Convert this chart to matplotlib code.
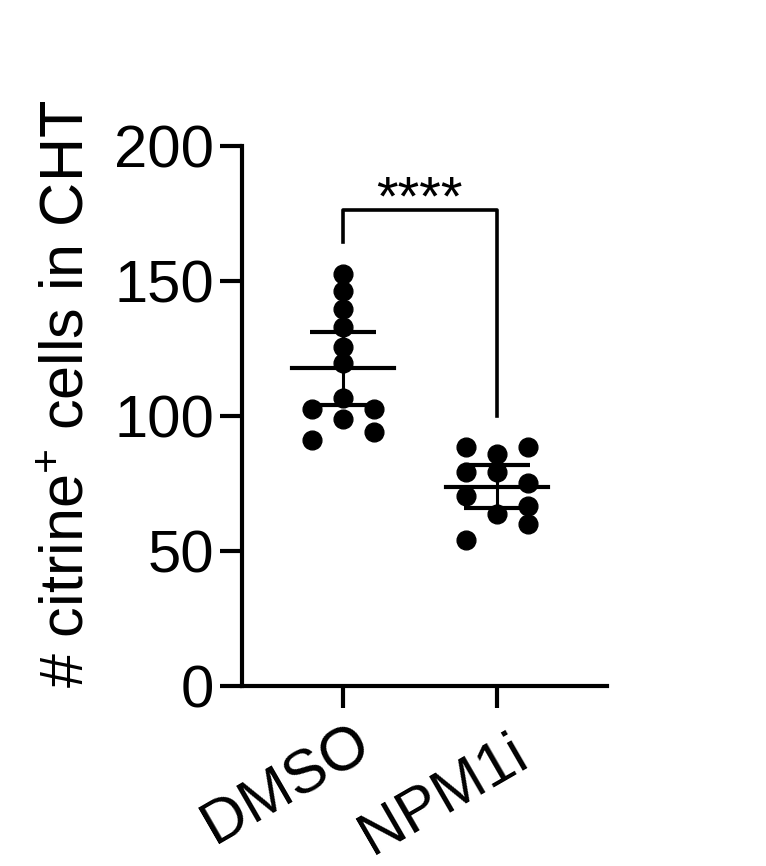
import numpy as np
import matplotlib
matplotlib.use('Agg')
import matplotlib.pyplot as plt
from matplotlib.transforms import ScaledTranslation

plt.rcParams['font.family'] = ['Liberation Sans', 'DejaVu Sans']
plt.rcParams['mathtext.fontset'] = 'custom'
plt.rcParams['mathtext.rm'] = 'Liberation Sans'
plt.rcParams['mathtext.default'] = 'regular'

groups = ['DMSO', 'NPM1i']
# values, with the horizontal slot each dot sits in (-1 left, 0 centre, 1 right)
dmso = [152.4, 146.3, 139.6, 132.9, 125.5, 119.5, 106.7, 102.7, 102.7, 98.7, 94.2, 91.0]
dmso_slot = [0, 0, 0, 0, 0, 0, 0, -1, 1, 0, 1, -1]
npm1i = [88.6, 88.6, 85.9, 79.2, 79.2, 75.2, 70.5, 66.5, 63.8, 59.8, 54.0]
npm1i_slot = [-1, 1, 0, 0, -1, 1, -1, 1, 0, 1, -1]
t_crit = [2.201, 2.228]  # 95% CI, df = n - 1
yticks = [0, 50, 100, 150, 200]
bracket_y = 176.3
bracket_ends = [164.5, 100]
stars = '****'

fig = plt.figure(figsize=(7.66, 8.66), dpi=100)
ax = fig.add_axes([0.316, 0.2079, 0.476, 0.6236])

for i, (vals, slots) in enumerate([(dmso, dmso_slot), (npm1i, npm1i_slot)]):
    vals = np.array(vals)
    xs = i + 0.2 * np.array(slots)
    ax.plot(xs, vals, 'o', color='black', markersize=13.5, zorder=3)
    m = vals.mean()
    ci = t_crit[i] * vals.std(ddof=1) / np.sqrt(len(vals))
    ax.plot([i - 0.33, i + 0.33], [m, m], color='black', lw=3, zorder=4)
    ax.errorbar(i, m, yerr=ci, fmt='none', ecolor='black', elinewidth=2.2,
                capsize=24, capthick=3, zorder=4)

# significance bracket
ax.plot([0, 0, 1, 1], [bracket_ends[0], bracket_y, bracket_y, bracket_ends[1]],
        color='black', lw=2.6)
ax.text(0.5, 170.3, stars, ha='center', va='bottom', fontsize=40)

ax.set_xlim(-0.656, 1.714)
ax.set_ylim(0, 200)
ax.set_yticks(yticks)
ax.set_xticks([0, 1])
ax.set_xticklabels(groups, rotation=30, ha='right', rotation_mode='anchor')
ax.tick_params(axis='y', labelsize=43, length=16, width=3, pad=4)
ax.tick_params(axis='x', labelsize=44, length=16, width=3, pad=5)
for lab, (dx, dy) in zip(ax.get_xticklabels(), [(8, 0), (12, -10)]):
    lab.set_transform(lab.get_transform() + ScaledTranslation(dx / 100, dy / 100, fig.dpi_scale_trans))
ax.spines['top'].set_visible(False)
ax.spines['right'].set_visible(False)
ax.spines['left'].set_linewidth(3)
ax.spines['bottom'].set_linewidth(3)
ax.set_ylabel('# citrine$^{+}$ cells in CHT', fontsize=44)
ax.yaxis.set_label_coords(-0.40, 0.54)

fig.savefig('out.png', dpi=100)
